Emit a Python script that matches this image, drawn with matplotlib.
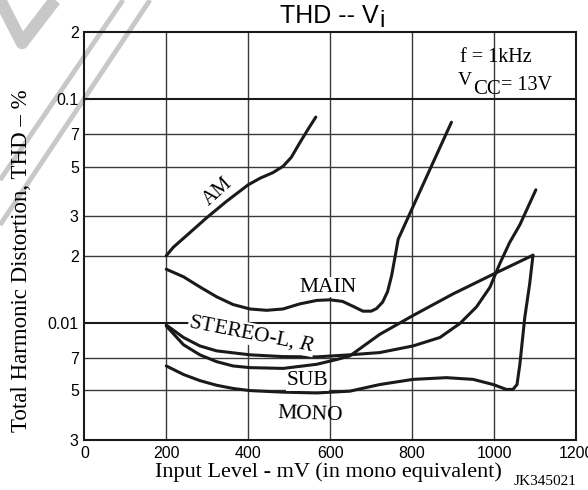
import matplotlib.pyplot as plt
from matplotlib.lines import Line2D

plt.rcParams['font.family'] = ['Liberation Sans', 'DejaVu Sans']
plt.rcParams['mathtext.fontset'] = 'custom'
plt.rcParams['mathtext.rm'] = 'Liberation Serif'
plt.rcParams['mathtext.it'] = 'Liberation Serif:italic'

# curves (Vi in mV, THD in %)
am_x = [200, 217, 258, 299, 347, 400, 430, 460, 485, 505, 526, 548, 565]
am_y = [0.020, 0.0218, 0.0254, 0.0296, 0.035, 0.0415, 0.0445, 0.047, 0.0502, 0.055, 0.064, 0.0745, 0.0833]

main_x = [200, 242, 282, 323, 363, 404, 445, 485, 526, 567, 599, 630, 655, 680, 700,
          713, 728, 740, 750, 758, 766, 790, 843, 896]
main_y = [0.0174, 0.0161, 0.0145, 0.0131, 0.0121, 0.01156, 0.0114, 0.01156, 0.01218, 0.01262,
          0.0127, 0.0125, 0.0119, 0.0113, 0.0113, 0.0116, 0.0124, 0.0138, 0.0163, 0.0196,
          0.0237, 0.0296, 0.0484, 0.079]

stereo_x = [200, 242, 282, 323, 404, 485, 567, 648, 721, 802, 868, 917, 957, 990, 1014,
            1038, 1063, 1102]
stereo_y = [0.0098, 0.00862, 0.0079, 0.00751, 0.00721, 0.00708, 0.00706, 0.00721, 0.00738,
            0.0079, 0.00862, 0.00997, 0.0118, 0.01446, 0.01843, 0.0229, 0.0275, 0.0394]

sub_x = [200, 242, 282, 323, 363, 404, 485, 567, 620, 648, 721, 802, 900, 1000, 1095]
sub_y = [0.0097, 0.0080, 0.00721, 0.00672, 0.00643, 0.00632, 0.00627, 0.00654, 0.0069,
         0.00713, 0.0089, 0.0108, 0.0135, 0.0166, 0.0201]

mono_x = [200, 242, 282, 323, 363, 404, 485, 567, 648, 721, 802, 884, 949, 998, 1030,
          1046, 1056, 1063, 1075, 1087, 1095]
mono_y = [0.00643, 0.00589, 0.00553, 0.00527, 0.0051, 0.00499, 0.00491, 0.00487, 0.00496,
          0.00531, 0.0056, 0.0057, 0.0056, 0.00531, 0.00505, 0.00505, 0.00531, 0.00654,
          0.0106, 0.015, 0.0201]

x_ticks = [0, 200, 400, 600, 800, 1000, 1200]
y_ticks = [0.2, 0.1, 0.07, 0.05, 0.03, 0.02, 0.01, 0.007, 0.005, 0.003]
y_labels = ['2', '0.1', '7', '5', '3', '2', '0.01', '7', '5', '3']

W, H = 588, 490
fig = plt.figure(figsize=(W / 100, H / 100), dpi=100)
ax = fig.add_axes([0.1434, 0.102, 0.8362, 0.8327])
ax.patch.set_alpha(0)

# grey watermark stripes in the top left corner
for xs, ys, w in [([0, 22, 55], [490, 447, 490], 9), ([123, 0], [490, 310], 3.5),
                  ([150, 0], [490, 265], 3.5)]:
    fig.add_artist(Line2D([v / W for v in xs], [v / H for v in ys], color='#c8c8c8',
                          lw=w, zorder=-1, solid_capstyle='butt'))

ax.set_yscale('log')
ax.set_xlim(0, 1200)
ax.set_ylim(0.003, 0.2)

for gx in [200, 400, 600, 800, 1000]:
    ax.axvline(gx, color='#3a3a3a', lw=1.0, zorder=1)
for gy in [0.07, 0.05, 0.03, 0.02, 0.007, 0.005]:
    ax.axhline(gy, color='#3a3a3a', lw=1.0, zorder=1)
for gy in [0.1, 0.01]:
    ax.axhline(gy, color='#1a1a1a', lw=1.5, zorder=1)

for xs, ys in [(am_x, am_y), (main_x, main_y), (stereo_x, stereo_y), (sub_x, sub_y), (mono_x, mono_y)]:
    ax.plot(xs, ys, color='#1a1a1a', lw=2.2, solid_capstyle='round', solid_joinstyle='round', zorder=3)

ax.set_xticks(x_ticks)
ax.set_xticklabels([str(v) for v in x_ticks])
ax.set_yticks(y_ticks)
ax.set_yticklabels(y_labels)
ax.minorticks_off()
ax.tick_params(length=0, labelsize=11.5, pad=4)
for s in ax.spines.values():
    s.set_linewidth(1.5)
    s.set_color('#1a1a1a')

serif = ['Liberation Serif', 'DejaVu Serif']
box = dict(facecolor='white', edgecolor='none', pad=0.5)
ax.text(327, 0.0386, 'AM', family=serif, fontsize=14.5, rotation=42, ha='center', va='center', zorder=4)
ax.text(595, 0.01448, 'MAIN', family=serif, fontsize=15.5, ha='center', va='center', zorder=4, bbox=box)
ax.text(408, 0.00892, 'STEREO-L, $\\mathit{R}$', family=serif, fontsize=15.5, rotation=-11,
        ha='center', va='center', zorder=4, bbox=box)
ax.text(544, 0.00553, 'SUB', family=serif, fontsize=15.5, ha='center', va='center', zorder=4, bbox=box)
ax.text(552, 0.00389, 'MONO', family=serif, fontsize=15.5, rotation=-2, ha='center', va='center', zorder=4)

r = fig.canvas.get_renderer()


def run_text(x, pieces):
    # pieces of text set one after another: (text, baseline y in px, size, family)
    for s, yb, size, fam in pieces:
        t = fig.text(x / W, 1 - yb / H, s, family=fam, fontsize=size, ha='left', va='baseline')
        x = t.get_window_extent(r).x1 + 0.5


run_text(460, [('f = 1kHz', 62, 14.5, serif)])
run_text(458, [('V', 85, 14, serif), ('CC', 94, 15, serif), ('= 13V', 90, 14.5, serif)])
run_text(280, [('THD -- V', 23, 18, ['Liberation Sans']), ('i', 27, 17, ['Liberation Sans'])])

fig.text(22 / W, 1 - 261 / H, 'Total Harmonic Distortion, THD – %', family=serif, fontsize=16.5,
         rotation=90, ha='center', va='center')
fig.text(328 / W, 1 - 472 / H, 'Input Level - mV (in mono equivalent)', family=serif, fontsize=16,
         ha='center', va='center')
fig.text(576 / W, 1 - 481 / H, 'JK345021', family=serif, fontsize=11, ha='right', va='center')

fig.savefig('out.png', dpi=100)
